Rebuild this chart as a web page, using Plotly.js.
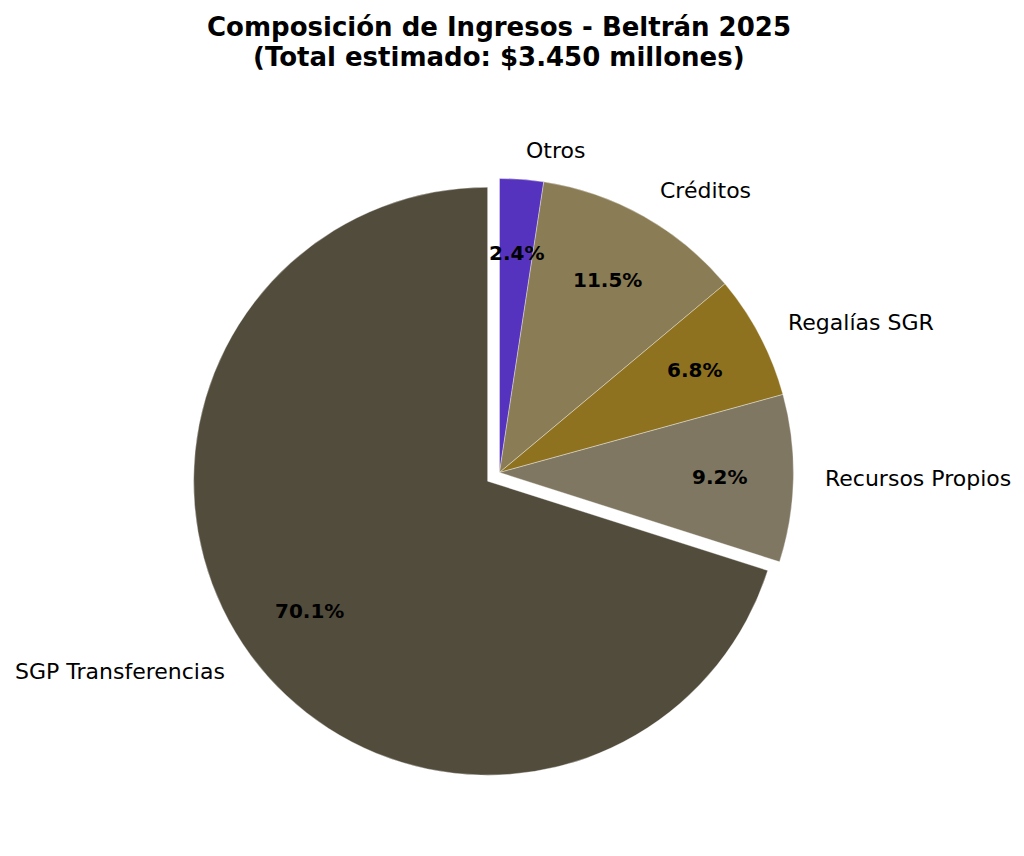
<!DOCTYPE html>
<html>
<head>
<meta charset="utf-8">
<script src="https://cdn.plot.ly/plotly-3.0.1.min.js"></script>
<style>html,body{margin:0;padding:0;background:#fff;}#chart{width:1024px;height:856px;}</style>
</head>
<body>
<div id="chart"></div>
<script>
// Data (millones de pesos)
const categories = ["SGP Transferencias", "Recursos Propios", "Regalías SGR", "Créditos", "Otros"];
const values = [2418, 317, 235, 397, 83];
const pulls = [0.05, 0, 0, 0, 0];
const colors = ["#524C3C", "#7F7761", "#8F7220", "#8A7C55", "#5633BF"];
const titleLines = ["Composición de Ingresos - Beltrán 2025", "(Total estimado: $3.450 millones)"];

// Layout geometry
const W = 1024, H = 856;
const CX = 499.5, CY = 472.5, R = 294;
const LABEL_DIST = 1.1, PCT_DIST = 0.75;
const FONT = "DejaVu Sans";
const TITLE_X = 499, TITLE_Y = [27, 57];

const maxPull = Math.max.apply(null, pulls);
const half = R * (1 + maxPull);
const domain = {
  x: [(CX - half) / W, (CX + half) / W],
  y: [1 - (CY + half) / H, 1 - (CY - half) / H]
};

const total = values.reduce((a, b) => a + b, 0);
const annotations = [];
titleLines.forEach((t, i) => {
  annotations.push({
    xref: "paper", yref: "paper", x: TITLE_X / W, y: 1 - TITLE_Y[i] / H,
    text: t, showarrow: false, xanchor: "center", yanchor: "middle",
    font: {family: FONT, size: 26, color: "#000", weight: "bold"}
  });
});
// slices run counterclockwise from 12 o'clock (labels/percent placed at slice mid-angles)
let start = 90;
values.forEach((v, i) => {
  const span = v / total * 360;
  const mid = (start + span / 2) * Math.PI / 180;
  start += span;
  const ox = CX + pulls[i] * R * Math.cos(mid);
  const oy = CY - pulls[i] * R * Math.sin(mid);
  const lx = ox + LABEL_DIST * R * Math.cos(mid);
  const ly = oy - LABEL_DIST * R * Math.sin(mid);
  annotations.push({
    xref: "paper", yref: "paper", x: lx / W, y: 1 - ly / H,
    text: categories[i], showarrow: false,
    xanchor: Math.cos(mid) < 0 ? "right" : "left", yanchor: "middle",
    font: {family: FONT, size: 22, color: "#000"}
  });
  const px = ox + PCT_DIST * R * Math.cos(mid);
  const py = oy - PCT_DIST * R * Math.sin(mid);
  annotations.push({
    xref: "paper", yref: "paper", x: px / W, y: 1 - py / H,
    text: (v / total * 100).toFixed(1) + "%", showarrow: false,
    xanchor: "center", yanchor: "middle",
    font: {family: FONT, size: 20, color: "#000", weight: "bold"}
  });
});

// Plotly always draws the first slice clockwise from 12 o'clock, so feed the
// slices in reverse order with a clockwise direction to get a CCW layout.
const rev = arr => arr.slice().reverse();
const trace = {
  type: "pie",
  labels: rev(categories),
  values: rev(values),
  pull: rev(pulls),
  sort: false,
  direction: "clockwise",
  rotation: 0,
  textinfo: "none",
  hoverinfo: "label+percent",
  marker: {colors: rev(colors), line: {color: "rgba(255,255,255,0.6)", width: 0.6}},
  domain: domain,
  showlegend: false
};

const layout = {
  width: W, height: H,
  margin: {l: 0, r: 0, t: 0, b: 0},
  paper_bgcolor: "#fff",
  showlegend: false,
  annotations: annotations
};

Plotly.newPlot("chart", [trace], layout, {displayModeBar: false, staticPlot: true});
</script>
</body>
</html>
